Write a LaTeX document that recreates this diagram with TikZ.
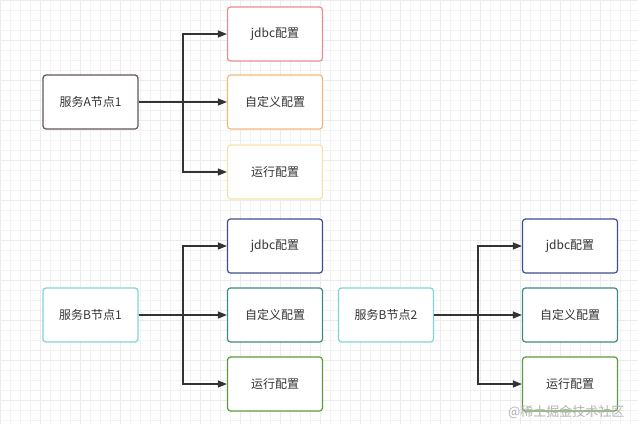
\documentclass[tikz,border=0pt]{standalone}
\usepackage{fontspec}
\setmainfont{Noto Sans CJK SC}
\usetikzlibrary{arrows.meta}
\definecolor{cA}{RGB}{100,85,85}
\definecolor{cR}{RGB}{234,140,140}
\definecolor{cO}{RGB}{242,185,125}
\definecolor{cY}{RGB}{245,228,170}
\definecolor{cC}{RGB}{128,212,212}
\definecolor{cB}{RGB}{62,78,145}
\definecolor{cT}{RGB}{62,138,128}
\definecolor{cG}{RGB}{95,155,62}
\begin{document}
\begin{tikzpicture}[x=1pt,y=-1pt,
 box/.style={draw=#1,line width=1.2pt,rounded corners=3pt,fill=white,minimum width=95pt,minimum height=54pt,inner sep=0pt,font=\fontsize{12}{14}\selectfont,text=black!80},
 arr/.style={-{Triangle[length=9pt,width=7pt]},line width=1.2pt,draw=black!80}]
\fill[white] (0,0) rectangle (638,424);
\useasboundingbox (0,0) rectangle (638,424);
\draw[black!5,line width=0.5pt] (0,0) grid[step=10pt] (638,424);
\draw[black!8,line width=0.8pt] (0,0) grid[step=40pt] (638,424);
\node[box=cA] (A) at (90.5,102) {服务A节点1};
\node[box=cR] (A1) at (275,34) {jdbc配置};
\node[box=cO] (A2) at (275,102) {自定义配置};
\node[box=cY] (A3) at (275,172) {运行配置};
\node[box=cC] (B) at (90.5,315) {服务B节点1};
\node[box=cB] (B1) at (275,246) {jdbc配置};
\node[box=cT] (B2) at (275,315) {自定义配置};
\node[box=cG] (B3) at (275,384) {运行配置};
\node[box=cC] (C) at (386,315) {服务B节点2};
\node[box=cB] (C1) at (570,246) {jdbc配置};
\node[box=cT] (C2) at (570,315) {自定义配置};
\node[box=cG] (C3) at (570,384) {运行配置};
\foreach \s/\bx in {A/183,B/183,C/478}{
 \foreach \i in {1,2,3}{
  \draw[arr] (\s.east) -- (\bx,0 |- \s.east) |- (\s\i.west);
 }
}
\node[text=black!30,font=\fontsize{13}{15}\selectfont,anchor=south east] (w) at (628,422) {@稀土掘金技术社区};
\end{tikzpicture}
\end{document}
